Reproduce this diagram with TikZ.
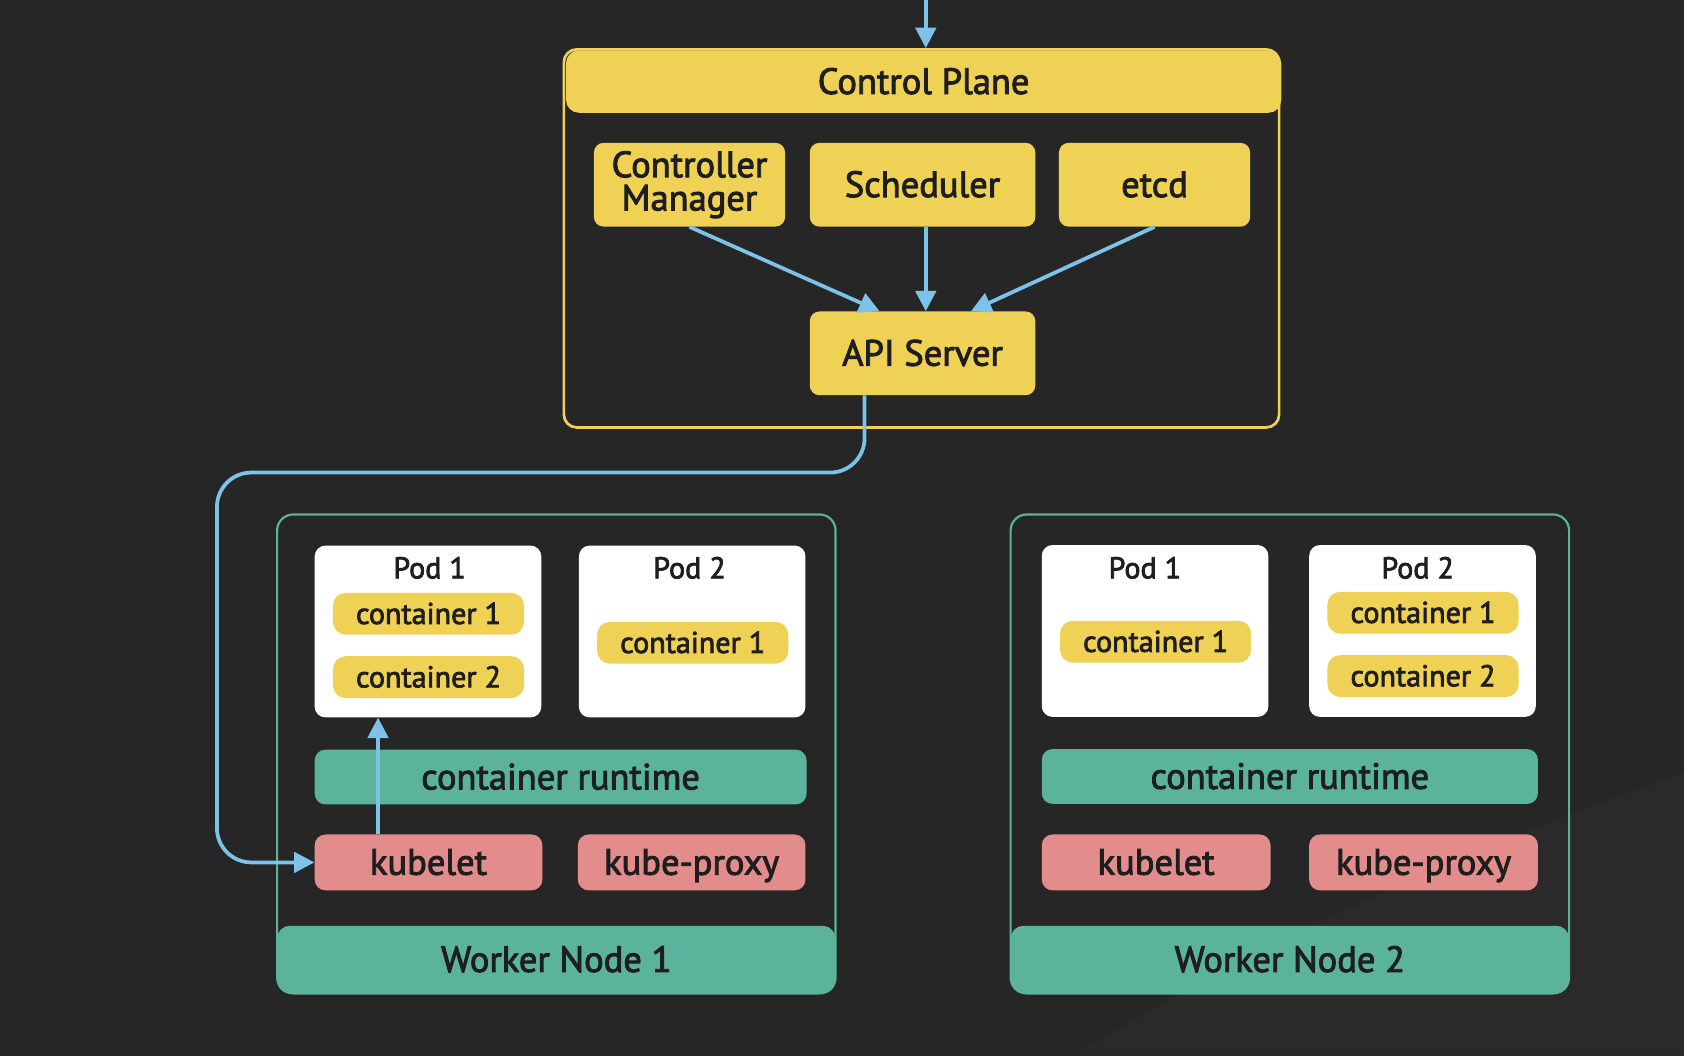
\documentclass[tikz,border=0pt]{standalone}
\usepackage{fontspec}
\setmainfont{PT Sans}[FakeBold=2.5]
\usetikzlibrary{arrows.meta}
\definecolor{bg}{HTML}{262626}
\definecolor{bgb}{HTML}{2A2A2A}
\definecolor{yel}{HTML}{EFD155}
\definecolor{grn}{HTML}{5BB39B}
\definecolor{pnk}{HTML}{E28C8B}
\definecolor{blu}{HTML}{7DC2E8}
\definecolor{ink}{HTML}{1E1E1E}
\begin{document}
\begin{tikzpicture}[x=1pt,y=-1pt,
  every node/.style={inner sep=0pt, text=ink},
  bigf/.style={font=\fontsize{34}{31}\selectfont},
  smallf/.style={font=\fontsize{28}{28}\selectfont},
  big1/.style={bigf, text height=23pt, text depth=0pt},
  small1/.style={smallf, text height=19pt, text depth=0pt},
  ybox/.style={fill=yel, rounded corners=9pt, align=center},
  cbox/.style={fill=yel, rounded corners=12pt, small1, minimum width=178pt, minimum height=39pt},
  podbox/.style={fill=white, rounded corners=10pt, minimum width=211pt, minimum height=160pt},
  podlbl/.style={small1},
  rtbox/.style={fill=grn, rounded corners=10pt, big1, minimum height=51pt},
  pkbox/.style={fill=pnk, rounded corners=10pt, big1, minimum width=212pt, minimum height=52pt},
  wnframe/.style={draw=grn, line width=2pt, rounded corners=15pt, minimum width=520pt, minimum height=446pt},
  wnband/.style={fill=grn, rounded corners=12pt, big1, minimum width=520pt, minimum height=63pt},
  arr/.style={draw=blu, line width=3.5pt, -{Triangle[length=19pt,width=19pt]}}
]
\useasboundingbox (0,0) rectangle (1568,983);
\fill[bg] (0,0) rectangle (1568,983);
\fill[bgb] (1000,983) .. controls (1200,860) and (1420,770) .. (1568,720) -- (1568,983) -- cycle;

% Control plane
\coordinate (top) at (862,0);
\node[draw=yel, line width=2.5pt, rounded corners=12pt, minimum width=666pt, minimum height=352pt] (cp) at (858,222) {};
\node[fill=yel, rounded corners=12pt, minimum width=666pt, minimum height=58pt, big1] (cphead) at (860,76) {Control Plane};
\node[ybox, bigf, minimum width=178pt, minimum height=78pt] (cm) at (642,172) {Controller\\Manager};
\node[ybox, big1, minimum width=210pt, minimum height=78pt] (sch) at (859,172) {Scheduler};
\node[ybox, big1, minimum width=178pt, minimum height=78pt] (etcd) at (1075,172) {etcd};
\node[ybox, big1, minimum width=210pt, minimum height=78pt] (api) at (859,329) {API Server};

\draw[arr] (top) -- (top |- cp.north);
\draw[arr] (cm.south) -- ([xshift=-40pt]api.north);
\draw[arr] ([xshift=3pt]sch.south) -- ([xshift=3pt]api.north);
\draw[arr] (etcd.south) -- ([xshift=45pt]api.north);

% Worker node 1
\node[wnframe] (wn1) at (518,702) {};
\node[wnband] (wn1band) at (518,893.5) {Worker Node 1};
\node[podbox] (w1pod1) at (398.5,588) {};
\node[podlbl] (w1pod1lbl) at (400,529) {Pod 1};
\node[cbox] (w1p1c1) at (399,571.5) {container 1};
\node[cbox] (w1p1c2) at (399,630.5) {container 2};
\node[podbox] (w1pod2) at (644.5,588) {};
\node[podlbl] (w1pod2lbl) at (642,529) {Pod 2};
\node[cbox] (w1p2c1) at (645,598.5) {container 1};
\node[rtbox, minimum width=458pt] (w1rt) at (522,723.5) {container runtime};
\node[pkbox] (w1kub) at (399,803) {kubelet};
\node[pkbox] (w1kp) at (644,803) {kube-proxy};

% Worker node 2
\node[wnframe] (wn2) at (1201,702) {};
\node[wnband] (wn2band) at (1201,893.5) {Worker Node 2};
\node[podbox] (w2pod1) at (1075.5,587.5) {};
\node[podlbl] (w2pod1lbl) at (1066,529) {Pod 1};
\node[cbox] (w2p1c1) at (1076,597.5) {container 1};
\node[podbox] (w2pod2) at (1324.5,587.5) {};
\node[podlbl] (w2pod2lbl) at (1320,529) {Pod 2};
\node[cbox] (w2p2c1) at (1325,570.5) {container 1};
\node[cbox] (w2p2c2) at (1325,629.5) {container 2};
\node[rtbox, minimum width=462pt] (w2rt) at (1201,723) {container runtime};
\node[pkbox, minimum width=213pt] (w2kub) at (1076.5,803) {kubelet};
\node[pkbox, minimum width=213pt] (w2kp) at (1325.5,803) {kube-proxy};

% connectors
\coordinate (bend) at (202,440);
\draw[arr, rounded corners=32pt] ([xshift=-54pt]api.south) |- (bend) |- (w1kub.west);
\draw[arr] ([xshift=-47pt]w1kub.north) -- ([xshift=-47pt]w1kub.north |- w1pod1.south);
\end{tikzpicture}
\end{document}
